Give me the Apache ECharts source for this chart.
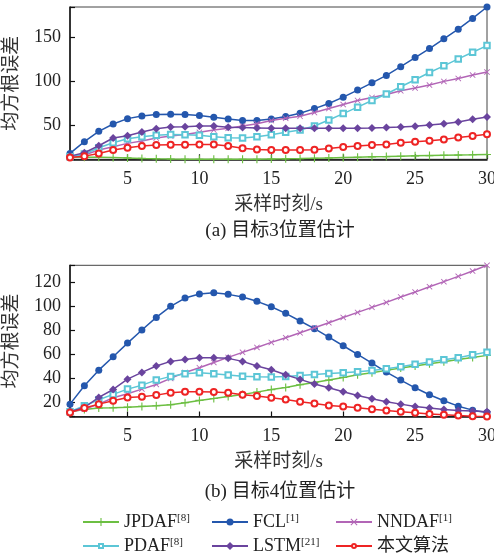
<!DOCTYPE html>
<html><head><meta charset="utf-8">
<script src="https://cdn.jsdelivr.net/npm/echarts@6/dist/echarts.min.js"></script>
<style>html,body{margin:0;padding:0;background:#fff}#c{width:494px;height:556px}</style>
</head><body><div id="c"></div>
<script>
// ---- data ----
const xs = [1,2,3,4,5,6,7,8,9,10,11,12,13,14,15,16,17,18,19,20,21,22,23,24,25,26,27,28,29,30];
const names = ['JPDAF','FCL','NNDAF','PDAF','LSTM','本文算法'];
const refs = ['[8]','[1]','[1]','[8]','[21]',''];

// (a) target 3
const jpdafA = [13.5,13.4,13.2,13.0,12.6,12.0,11.6,11.3,11.1,11.0,11.0,11.0,11.0,11.1,11.3,11.5,11.8,12.2,12.6,13.0,13.4,13.8,14.1,14.5,14.9,15.2,15.5,15.8,16.1,16.5];
const fclA   = [17.7,31,42.8,51.1,57.2,60.3,61.8,62.2,61.8,60.7,58.8,56.8,55,55,56.8,59.5,63.3,68.6,74.4,81.6,89.6,97.9,106.3,116.2,126.5,136.8,147.8,158.8,171,184];
const nndafA = [13.9,15.8,21.5,25.3,29.1,31.7,35.2,37.4,39.2,41.6,44.3,46.2,48.9,51.5,55,57.6,59.9,64.1,68.6,73.2,77.8,81.2,84.6,88.8,91.9,95.3,99.5,102.9,106.7,110.1];
const pdafA  = [13.9,16.9,24.1,29.8,34.4,36.7,38.2,39.3,39,38.2,36.7,35.5,35.2,36.7,38.8,41.6,44.3,48.9,55.7,62.9,70.2,77.8,85.2,93.4,101.4,109.6,117.2,125,132.6,140.2];
const lstmA  = [14.6,18.4,26.4,35.2,37.8,42,45.8,47.7,48.1,48.9,48.9,47.3,47,46.6,46.2,46.2,46.4,46.2,46.2,46.2,46.3,46.6,47,47.6,48.5,49.9,51.5,53.4,56.5,59.1];
const oursA  = [13.1,14.6,17.7,21.5,24.1,26,27.2,27.5,27.5,27.9,27.9,26,23.5,22.2,21.5,21.5,21.5,21.8,23.3,24.9,26,27.2,27.9,29.8,30.9,32.1,33.6,35.9,37.4,39.5];

// (b) target 4
const jpdafB = [12.2,14.2,15.3,15.6,16.1,16.7,17.2,18.1,19.7,21.7,23.3,25,26.7,28.6,30.7,32.5,34.7,36.7,38.6,40.8,43.1,44.7,46.7,48.6,50.3,52.2,53.9,55.8,57.5,59.2];
const fclB   = [18.6,33.9,46.9,58.1,69.4,80.3,90.8,100,106.9,110.3,111.4,110,107.8,104.2,99.7,94.2,87.8,81.4,74.4,67.2,60,52.8,45.3,38.6,32.2,26.4,21.4,16.9,13.6,11.7];
const nndafB = [12.2,14.4,18.6,23.9,27.2,31.1,35,40,45,48.9,53.3,57.5,61.7,65.8,70,73.9,78,82.2,86.4,90.8,95,99.2,103.3,107.8,111.9,116.4,120.6,125,129.4,134.2];
const pdafB  = [12.2,17.2,22.2,26.7,31.1,34.4,38.6,41.7,43.9,44.7,43.9,42.8,41.9,41.4,41.1,41.7,42.5,43.3,44.2,44.7,45.6,46.7,48.1,49.7,51.9,53.6,55.6,57.2,59.7,61.9];
const lstmB  = [12.2,15.8,24.2,30.8,39.4,45,50.3,54.2,55.8,57.2,57.2,56.7,54.2,50.3,47.2,43.1,39.2,35.3,32.2,28.9,25.8,23.1,20.6,18.6,16.7,15.3,14.2,13.3,12.8,12.2];
const oursB  = [11.7,15.3,18.6,21.4,24.2,24.7,26.1,28.1,28.9,28.9,28.6,28.1,26.4,25.3,23.9,22.5,20.6,19.2,17.5,16.7,15.6,14.4,13.3,12.2,11.4,10.4,9.7,9.1,8.6,8.3];

const tickStepA = 50, tickStepB = 20;
const captionA = '(a) 目标3位置估计';
const captionB = '(b) 目标4位置估计';
const xName = '采样时刻/s';
const yName = '均方根误差';

// ---- styles ----
const SERIF = '"Liberation Serif","Times New Roman",serif';
const MIX = '"Liberation Serif","Noto Sans CJK SC",serif';
const colors = ['#6cbf42','#2457ad','#b265b6','#5cc6d6','#6a449e','#ee2424'];
const PLUS = 'path://M4.3,0H5.7V4.3H10V5.7H5.7V10H4.3V5.7H0V4.3H4.3Z';
const CROSS = 'path://M0,1L1,0L5,4L9,0L10,1L6,5L10,9L9,10L5,6L1,10L0,9L4,5Z';
const symbols = [PLUS,'circle',CROSS,'emptyRect','diamond','emptyCircle'];
const sizes = [8,7,6,5.5,8,6];
const legendSizes = [8,7,7,4,8,4];

const setsA = [jpdafA,fclA,nndafA,pdafA,lstmA,oursA];
const setsB = [jpdafB,fclB,nndafB,pdafB,lstmB,oursB];
const minA = Math.min(...setsA.flat()), maxA = Math.max(...setsA.flat());
const minB = Math.min(...setsB.flat()), maxB = Math.max(...setsB.flat());

const grids = [
  {left:70, right:7, top:7, height:152.3},
  {left:70, right:7, top:265.3, height:151.2}
];

function xAxisFor(g){
  return {
    gridIndex:g, type:'category', data:xs, boundaryGap:false,
    axisLine:{lineStyle:{color:'#111', width:1.5}},
    axisTick:{inside:true, length:5, interval:(i,v)=>Number(v)%5===0, lineStyle:{color:'#111', width:1.2}},
    axisLabel:{interval:(i,v)=>Number(v)%5===0, margin:11, fontSize:18, fontFamily:SERIF, color:'#222'},
    splitLine:{show:false},
    name:xName, nameLocation:'middle', nameGap:36,
    nameTextStyle:{fontSize:19, fontFamily:MIX, color:'#333'}
  };
}
function yAxisFor(g, mn, mx, step, split){
  return {
    gridIndex:g, type:'value', min:mn, max:mx, splitNumber:split,
    axisLine:{show:true, lineStyle:{color:'#111', width:1.5}},
    axisTick:{show:true, inside:true, length:5, lineStyle:{color:'#111', width:1.2}},
    axisLabel:{formatter:v=> (Math.abs(v/step-Math.round(v/step))<1e-6 ? String(Math.round(v)) : ''), margin:9, fontSize:18, fontFamily:SERIF, color:'#222'},
    splitLine:{show:false},
    name:yName, nameLocation:'middle', nameGap:48, nameRotate:90,
    nameTextStyle:{fontSize:19, fontFamily:MIX, color:'#333'}
  };
}

const series = [];
[setsA, setsB].forEach((sets, g) => {
  sets.forEach((d, k) => {
    series.push({
      type:'line', name:names[k], xAxisIndex:g, yAxisIndex:g, data:d,
      symbol:symbols[k], symbolSize:sizes[k], showAllSymbol:true,
      color:colors[k],
      itemStyle:{color:colors[k], borderColor:colors[k], borderWidth:(k===3||k===5)?1.3:0},
      lineStyle:{color:colors[k], width:1.5},
      emphasis:{disabled:true}, z:2+k
    });
  });
});

const rich = {
  n:{fontSize:18, fontFamily:MIX, color:'#222'},
  s:{fontSize:11, fontFamily:SERIF, color:'#222', verticalAlign:'top', padding:[0,0,7,0]}
};
function legendAt(left, top, item){
  const k = names.indexOf(item);
  return {
    data:[item], left:left, top:top, orient:'horizontal', padding:0,
    itemWidth:36, itemHeight:legendSizes[k] / 0.8, itemGap:0, selectedMode:false,
    formatter:name=>{ const r = refs[names.indexOf(name)]; return r ? `{n|${name}}{s|${r}}` : `{n|${name}}`; },
    textStyle:{rich:rich, fontSize:18}
  };
}
const legendCols = [82, 211, 335];
const legendRows = [513, 537];
const legendItems = [['JPDAF','FCL','NNDAF'],['PDAF','LSTM','本文算法']];
const legends = [];
legendItems.forEach((row, r) => row.forEach((nm, c) => legends.push(legendAt(legendCols[c], legendRows[r], nm))));

const option = {
  animation:false,
  backgroundColor:'#fff',
  grid:grids.map(g=>Object.assign({show:true, borderColor:'#444', borderWidth:1, backgroundColor:'transparent', containLabel:false, outerBoundsMode:'none'}, g)),
  xAxis:[xAxisFor(0), xAxisFor(1)],
  yAxis:[yAxisFor(0, minA, maxA, tickStepA, 4), yAxisFor(1, minB, maxB, tickStepB, 6)],
  legend:legends,
  graphic:[
    {type:'text', x:280, y:231, style:{text:captionA, font:'19px '+MIX, fill:'#222', align:'center', verticalAlign:'middle'}},
    {type:'text', x:280, y:492, style:{text:captionB, font:'19px '+MIX, fill:'#222', align:'center', verticalAlign:'middle'}}
  ],
  series:series
};
const chart = echarts.init(document.getElementById('c'));
chart.setOption(option);
</script></body></html>
